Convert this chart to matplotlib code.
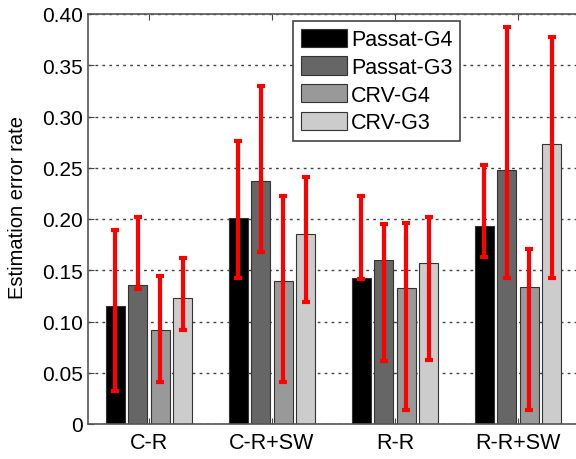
import matplotlib
matplotlib.use("Agg")
import matplotlib.pyplot as plt
import numpy as np

plt.rcParams['font.family'] = ['Liberation Sans', 'DejaVu Sans']

groups = ["C-R", "C-R+SW", "R-R", "R-R+SW"]
series = ["Passat-G4", "Passat-G3", "CRV-G4", "CRV-G3"]
colors = ["#000000", "#666666", "#999999", "#cccccc"]

values = {
    "Passat-G4": [0.115, 0.201, 0.142, 0.193],
    "Passat-G3": [0.136, 0.237, 0.160, 0.248],
    "CRV-G4":    [0.092, 0.140, 0.133, 0.134],
    "CRV-G3":    [0.123, 0.185, 0.157, 0.273],
}
err_low = {
    "Passat-G4": [0.032, 0.142, 0.141, 0.163],
    "Passat-G3": [0.132, 0.168, 0.061, 0.142],
    "CRV-G4":    [0.041, 0.041, 0.014, 0.014],
    "CRV-G3":    [0.092, 0.119, 0.062, 0.142],
}
err_high = {
    "Passat-G4": [0.189, 0.276, 0.222, 0.253],
    "Passat-G3": [0.202, 0.330, 0.195, 0.387],
    "CRV-G4":    [0.144, 0.222, 0.196, 0.171],
    "CRV-G3":    [0.162, 0.241, 0.202, 0.378],
}

fig = plt.figure(figsize=(5.76, 4.6), dpi=100)
ax = fig.add_axes([87.5/576, 1-425/460, 492/576, 410/460])

x = np.arange(1, len(groups) + 1)
pitch = 0.182
width = 0.154
for i, s in enumerate(series):
    xs = x + (i - 1.5) * pitch
    ax.bar(xs, values[s], width=width, color=colors[i], edgecolor="#333333",
           linewidth=0.8, label=s, zorder=2)
for i, s in enumerate(series):
    xs = x + (i - 1.5) * pitch
    lo = np.array(err_low[s]); hi = np.array(err_high[s])
    mid = (lo + hi) / 2
    ax.errorbar(xs, mid, yerr=(hi - lo) / 2, fmt="none", ecolor="#ff0000",
                elinewidth=3, capsize=3, capthick=3, zorder=3)

ax.set_xlim(0.5, 4.5)
ax.set_ylim(0, 0.40)
ax.set_yticks(np.arange(0, 0.401, 0.05))
ax.set_yticklabels(["0"] + [f"{v:.2f}" for v in np.arange(0.05, 0.401, 0.05)], fontsize=15)
ax.set_xticks(x)
ax.set_xticklabels(groups, fontsize=15.5)
ax.tick_params(direction="in", top=True, right=False, length=4, color="#444444")
ax.tick_params(axis="x", pad=6)
ax.set_ylabel("Estimation error rate", fontsize=14.5)
ax.yaxis.set_label_coords(-0.122, 0.53)
ax.yaxis.grid(True, linestyle=(0, (2, 3)), color="#444444", linewidth=1.0, zorder=0)
ax.set_axisbelow(True)
for sp in ax.spines.values():
    sp.set_color("#555555")
    sp.set_linewidth(1.2)
ax.spines["right"].set_visible(False)

leg = ax.legend(loc="upper left", bbox_to_anchor=(0.418, 0.983), fontsize=15.5,
                fancybox=False, framealpha=1, edgecolor="#444444",
                handlelength=2.15, handleheight=0.95, borderpad=0.35,
                labelspacing=0.28, handletextpad=0.2, borderaxespad=0)
leg.get_frame().set_linewidth(1.2)

fig.savefig("out.png", dpi=100)
